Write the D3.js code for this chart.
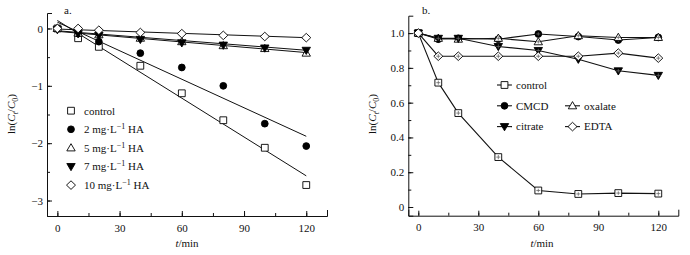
<!DOCTYPE html>
<html><head><meta charset="utf-8">
<script src="https://cdn.jsdelivr.net/npm/d3@7"></script>
<style>body{margin:0;background:#fff}svg{display:block}text{font-family:"Liberation Serif","Times New Roman",serif;fill:#111}</style>
</head><body>
<script>
// ---------- data ----------
const times = [0, 10, 20, 40, 60, 80, 100, 120];
// panel a: ln(Ct/C0)
const aNames = ["control", "2 mg·L", "5 mg·L", "7 mg·L", "10 mg·L"];
const aShapes = ["square", "circle", "triUp", "triDown", "diamond"];
const aFilled = [false, true, false, true, false];
const aControl = [0, -0.17, -0.32, -0.65, -1.13, -1.60, -2.08, -2.73];
const aHA2 = [0, -0.09, -0.23, -0.43, -0.68, -1.00, -1.66, -2.05];
const aHA5 = [0, -0.08, -0.11, -0.17, -0.23, -0.30, -0.35, -0.43];
const aHA7 = [-0.02, -0.09, -0.12, -0.19, -0.25, -0.29, -0.34, -0.38];
const aHA10 = [0, 0, -0.03, -0.07, -0.09, -0.12, -0.14, -0.16];
// fitted lines: value at t=0 and at t=120
const aFitStart = [0.14, 0.11, -0.05, -0.04, -0.01];
const aFitEnd = [-2.57, -1.88, -0.42, -0.38, -0.16];
const aYTicks = [-3, -2, -1, 0];
const aYMinor = [-3, -2.5, -2, -1.5, -1, -0.5, 0];
// panel b: Ct/C0
const bNames = ["control", "CMCD", "oxalate", "citrate", "EDTA"];
const bShapes = ["square", "circle", "triUp", "triDown", "diamond"];
const bFilled = [false, true, false, true, false];
const bControl = [1.0, 0.715, 0.54, 0.287, 0.095, 0.075, 0.08, 0.077];
const bCMCD = [1.0, 0.965, 0.97, 0.965, 0.995, 0.98, 0.96, 0.975];
const bOxalate = [1.0, 0.97, 0.965, 0.97, 0.95, 0.985, 0.975, 0.975];
const bCitrate = [1.0, 0.97, 0.97, 0.923, 0.90, 0.85, 0.783, 0.757];
const bEDTA = [1.0, 0.867, 0.867, 0.867, 0.867, 0.867, 0.885, 0.856];
const bErr = [0, 0.012, 0.012, 0.012, 0.01, 0.01, 0.01, 0.012];
const bYTicks = [0, 0.2, 0.4, 0.6, 0.8, 1.0];
const bYMinor = [0, 0.1, 0.2, 0.3, 0.4, 0.5, 0.6, 0.7, 0.8, 0.9, 1.0];
const xTicks = [0, 30, 60, 90, 120];
const xMinor = [0, 15, 30, 45, 60, 75, 90, 105, 120];

const aSeries = [aControl, aHA2, aHA5, aHA7, aHA10];
const bSeries = [bControl, bCMCD, bOxalate, bCitrate, bEDTA];

// ---------- drawing ----------
const svg = d3.select("body").append("svg").attr("width", 690).attr("height", 255);

function shapePath(t) {
  switch (t) {
    case "square": return "M-3.4,-3.4h6.8v6.8h-6.8Z";
    case "triUp": return "M0,-4.2L4.2,3L-4.2,3Z";
    case "triDown": return "M0,4.2L4.2,-3L-4.2,-3Z";
    case "diamond": return "M0,-4.3L4.5,0L0,4.3L-4.5,0Z";
  }
}
function marker(g, t, filled, x, y) {
  if (t === "circle") {
    g.append("circle").attr("cx", x).attr("cy", y).attr("r", 3.4)
      .attr("fill", filled ? "#000" : "#fff").attr("stroke", "#000").attr("stroke-width", 0.9);
  } else {
    g.append("path").attr("d", shapePath(t)).attr("transform", `translate(${x},${y})`)
      .attr("fill", filled ? "#000" : "#fff").attr("stroke", "#000").attr("stroke-width", 0.9);
  }
}
function fmtMinus(d) { return d < 0 ? "\u2212" + Math.abs(d) : String(d); }

function axes(x, y, yTicks, yMinor, yFmt) {
  const [x0] = x.range(); const [yb] = y.range();
  const g = svg.append("g");
  const gx = g.append("g").attr("transform", `translate(0,${yb})`)
    .call(d3.axisBottom(x).tickValues(xMinor).tickSizeInner(-3).tickSizeOuter(-6).tickFormat(""));
  g.append("g").attr("transform", `translate(0,${yb})`)
    .call(d3.axisBottom(x).tickValues(xTicks).tickSizeInner(-5).tickSizeOuter(0).tickPadding(8))
    .call(s => s.select(".domain").remove());
  g.append("g").attr("transform", `translate(${x0},0)`)
    .call(d3.axisLeft(y).tickValues(yMinor).tickSizeInner(-3).tickSizeOuter(-5).tickFormat(""));
  g.append("g").attr("transform", `translate(${x0},0)`)
    .call(d3.axisLeft(y).tickValues(yTicks).tickSizeInner(-5).tickSizeOuter(0).tickPadding(4).tickFormat(yFmt))
    .call(s => s.select(".domain").remove());
  g.selectAll("text").attr("font-size", 11).attr("font-family", '"Liberation Serif",serif').attr("fill", "#111");
  g.selectAll("line,path").attr("stroke", "#111").attr("stroke-width", 1);
}

function yLabel(x, y) {
  const t = svg.append("text").attr("transform", `translate(${x},${y}) rotate(-90)`)
    .attr("text-anchor", "middle").attr("font-size", 11);
  t.append("tspan").text("ln(");
  t.append("tspan").attr("font-style", "italic").text("C");
  t.append("tspan").attr("font-size", 8).attr("dy", 2.5).attr("font-style", "italic").text("t");
  t.append("tspan").attr("dy", -2.5).text("/");
  t.append("tspan").attr("font-style", "italic").text("C");
  t.append("tspan").attr("font-size", 8).attr("dy", 2.5).text("0");
  t.append("tspan").attr("dy", -2.5).text(")");
}
function xLabel(x, y) {
  const t = svg.append("text").attr("x", x).attr("y", y).attr("text-anchor", "middle").attr("font-size", 11);
  t.append("tspan").attr("font-style", "italic").text("t");
  t.append("tspan").text("/min");
}

// ----- panel a -----
const xa = d3.scaleLinear().domain([-5, 130]).range([47, 327]);
const ya = d3.scaleLinear().domain([-3.27, 0.27]).range([216, 13]);
axes(xa, ya, aYTicks, aYMinor, fmtMinus);
const ga = svg.append("g");
aSeries.forEach((s, i) => {
  ga.append("line").attr("x1", xa(0)).attr("y1", ya(aFitStart[i]))
    .attr("x2", xa(120)).attr("y2", ya(aFitEnd[i])).attr("stroke", "#111").attr("stroke-width", 1);
});
aSeries.forEach((s, i) => {
  s.forEach((v, j) => marker(ga, aShapes[i], aFilled[i], xa(times[j]), ya(v)));
});
svg.append("text").attr("x", 64).attr("y", 14).attr("font-size", 11).text("a.");
yLabel(15, 114);
xLabel(187, 247);
// legend a
aNames.forEach((n, i) => {
  const cy = 110.7 + i * 18.6;
  marker(svg, aShapes[i], aFilled[i], 71, cy);
  const t = svg.append("text").attr("x", 84).attr("y", cy + 3.8).attr("font-size", 11);
  t.append("tspan").text(n);
  if (i > 0) {
    t.append("tspan").attr("dy", -4).attr("font-size", 8).text("\u22121");
    t.append("tspan").attr("dy", 4).text(" HA");
  }
});

// ----- panel b -----
const xb = d3.scaleLinear().domain([-5, 130]).range([408.3, 678.3]);
const yb = d3.scaleLinear().domain([-0.05, 1.1]).range([215.7, 15.7]);
axes(xb, yb, bYTicks, bYMinor, d => d === 0 ? "0" : d3.format(".1f")(d));
const gb = svg.append("g");
const line = d3.line().x((d, j) => xb(times[j])).y(d => yb(d));
bSeries.forEach((s, i) => {
  gb.append("path").attr("d", line(s)).attr("fill", "none").attr("stroke", "#111").attr("stroke-width", 1.1);
});
bSeries.forEach((s, i) => {
  s.forEach((v, j) => {
    marker(gb, bShapes[i], bFilled[i], xb(times[j]), yb(v));
    if (bErr[j] > 0) {
      const cx = xb(times[j]);
      gb.append("line").attr("x1", cx).attr("x2", cx).attr("y1", yb(v - bErr[j])).attr("y2", yb(v + bErr[j]))
        .attr("stroke", "#666").attr("stroke-width", 0.8);
      gb.append("line").attr("x1", cx - 2).attr("x2", cx + 2).attr("y1", yb(v)).attr("y2", yb(v))
        .attr("stroke", "#666").attr("stroke-width", 0.8);
    }
  });
});
svg.append("text").attr("x", 422).attr("y", 14).attr("font-size", 11).text("b.");
yLabel(376, 114);
xLabel(542, 247);
// legend b
const bLegPos = [[0, 0], [0, 1], [1, 1], [0, 2], [1, 2]];
bNames.forEach((n, i) => {
  const [c, r] = bLegPos[i];
  const x0 = c === 0 ? 497 : 565;
  const cy = 85 + r * 20.8;
  svg.append("line").attr("x1", x0).attr("x2", x0 + 15).attr("y1", cy).attr("y2", cy)
    .attr("stroke", "#111").attr("stroke-width", 1.1);
  marker(svg, bShapes[i], bFilled[i], x0 + 7.5, cy);
  svg.append("text").attr("x", x0 + 19).attr("y", cy + 3.8).attr("font-size", 11).text(n);
});
</script>
</body></html>
